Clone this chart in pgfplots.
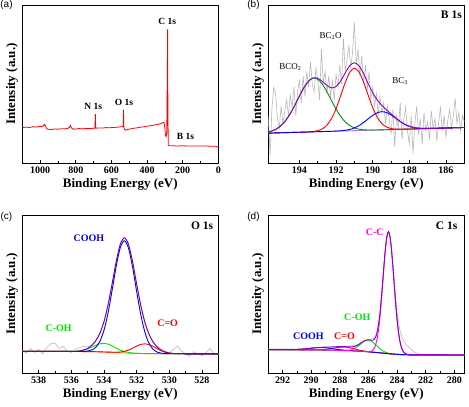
\documentclass[border=0pt]{standalone}
\usepackage{fontspec}
\setmainfont{Liberation Serif}
\newfontfamily\arialfont{Liberation Sans}
\usepackage{pgfplots}
\pgfplotsset{compat=1.18}
\definecolor{grayraw}{RGB}{185,185,185}
\definecolor{purp}{RGB}{140,0,200}
\definecolor{dpurp}{RGB}{120,0,150}
\definecolor{lpurp}{RGB}{175,115,235}
\definecolor{dgreen}{RGB}{0,145,0}
\definecolor{lgreen}{RGB}{0,230,0}
\definecolor{orng}{RGB}{255,130,0}
\definecolor{mag}{RGB}{255,0,255}
\pgfplotsset{
  xpsaxis/.style={
    scale only axis, width=196pt, height=158pt,
    x dir=reverse, ymin=0, ymax=100, ytick=\empty,
    axis line style={black, line width=0.8pt},
    tick align=inside, xtick pos=left, minor x tick num=1,
    major tick length=3.5pt, minor tick length=2pt,
    tick style={black, line width=0.6pt},
    tick label style={font=\fontsize{10}{12}\selectfont\bfseries},
    /pgf/number format/assume math mode=true,
    /pgf/number format/1000 sep={},
    label style={font=\fontsize{13}{15}\selectfont\bfseries},
    xlabel={Binding Energy (eV)},
    ylabel={Intensity (a.u.)},
    xlabel style={at={(axis description cs:0.5,-0.133)},anchor=center},
    ylabel style={at={(axis description cs:-0.053,0.5)},anchor=center},
    every axis plot/.append style={line width=0.9pt},
  },
}
\tikzset{
  ann/.style={font=\fontsize{9.5}{11}\selectfont\bfseries, inner sep=0pt},
  annc/.style={font=\fontsize{10}{12}\selectfont\bfseries, inner sep=0pt},
  corner/.style={font=\fontsize{11.5}{13}\selectfont\bfseries, inner sep=0pt, anchor=north east},
}
\begin{document}
\begin{tikzpicture}
\useasboundingbox (0,0) rectangle (469pt,-407pt);
% ---------------- (a) ----------------
\begin{axis}[xpsaxis, at={(22.3pt,-5pt)}, anchor=north west,
  xmin=0, xmax=1100, xtick={0,200,...,1000}]
\addplot[red, line width=0.8pt] coordinates {
(1100,22.4) (1080,22.7) (1060,22.5) (1040,22.9) (1020,22.8) (1000,23.1) (990,23.0) (980,23.8) (975,24.4) (970,23.6) (965,22.0) (960,21.4) (940,21.2) (920,21.5) (900,21.4) (880,21.7) (860,21.6) (845,21.9) (835,22.6) (830,23.7) (825,22.3) (815,21.4) (800,21.5) (780,21.8) (760,21.6) (740,21.9) (720,21.8) (700,22.0) (692,22.1) (690,31.0) (688,22.0) (670,22.2) (650,22.1) (630,22.4) (610,22.3) (590,22.5) (570,22.6) (550,22.9) (540,23.0) (534,23.1) (532,33.7) (530,22.4) (526,21.2) (520,20.8) (510,21.2) (500,21.4) (480,21.9) (460,22.2) (440,22.6) (420,22.9) (400,23.3) (380,23.6) (360,24.0) (340,24.5) (320,25.0) (310,25.6) (305,25.8) (300,22.5) (297,17.5) (293,16.6) (289,20) (286,60) (284.5,84.6) (283,40) (281,11.0) (278,10.9) (260,10.9) (240,10.8) (220,10.8) (200,10.9) (180,10.8) (160,10.8) (140,10.7) (120,10.8) (100,10.7) (80,10.7) (60,10.7) (40,10.6) (20,10.6) (10,10.5) (5,10.0) (2,10.0)};
\node[ann] at (axis cs:287,89.5) {C 1s};
\node[ann] at (axis cs:530,38.5) {O 1s};
\node[ann] at (axis cs:702,35.8) {N 1s};
\node[ann] at (axis cs:184,16.8) {B 1s};
\end{axis}
% ---------------- (b) ----------------
\begin{axis}[xpsaxis, at={(268.3pt,-5pt)}, anchor=north west,
  xmin=185, xmax=195.7, xtick={186,188,...,194}]
\addplot[grayraw, line width=0.6pt] coordinates {
(195.7,30) (195.6,5) (195.5,35) (195.4,48) (195.3,44) (195.2,28) (195.1,22) (195.0,36) (194.9,25) (194.8,33) (194.7,40) (194.6,30) (194.5,43) (194.4,35) (194.3,48) (194.2,30) (194.1,45) (194.0,52) (193.9,38) (193.8,55) (193.7,42) (193.6,58) (193.5,48) (193.4,64) (193.3,50) (193.2,45) (193.1,60) (193.0,52) (192.9,40) (192.8,72) (192.7,50) (192.6,58) (192.5,44) (192.4,55) (192.3,42) (192.2,52) (192.1,40) (192.0,56) (191.9,48) (191.8,62) (191.7,50) (191.6,79) (191.5,58) (191.4,66) (191.3,74) (191.2,60) (191.1,70) (191.0,89) (190.9,62) (190.8,72) (190.7,55) (190.6,68) (190.5,50) (190.4,62) (190.3,46) (190.2,58) (190.1,40) (190.0,48) (189.9,36) (189.8,44) (189.7,30) (189.6,42) (189.5,32) (189.4,38) (189.3,25) (189.2,36) (189.1,28) (189.0,18) (188.9,34) (188.8,10) (188.7,30) (188.6,22) (188.5,38) (188.4,15) (188.3,28) (188.2,35) (188.1,20) (188.0,12) (187.9,30) (187.8,6) (187.7,25) (187.6,36) (187.5,18) (187.4,28) (187.3,12) (187.2,32) (187.1,20) (187.0,26) (186.9,15) (186.8,33) (186.7,22) (186.6,28) (186.5,14) (186.4,26) (186.3,35) (186.2,20) (186.1,30) (186.0,16) (185.9,27) (185.8,34) (185.7,22) (185.6,30) (185.5,41) (185.4,25) (185.3,32) (185.2,20) (185.1,30) (185.0,26)};
\addplot[lpurp] coordinates {(195.7,18.9) (185,22.5)};
\addplot[dgreen, smooth] coordinates {
(195.7,19.62) (195.5,20.27) (195.25,21.59) (195.0,23.74) (194.75,26.94) (194.5,31.28) (194.25,36.60) (194.0,42.37) (193.75,47.77) (193.5,51.80) (193.25,53.67) (193.0,52.98) (192.75,49.89) (192.5,45.11) (192.25,39.54) (192.0,34.12) (191.75,29.51) (191.5,26.02) (191.25,23.65) (191.0,22.19) (190.75,21.40) (190.5,21.03) (190.25,20.89) (190.0,20.88) (189.5,20.98) (188.0,21.49) (186.0,22.16) (185.0,22.50)};
\addplot[red, smooth] coordinates {
(195.7,18.90) (194.0,19.47) (193.5,19.71) (193.25,19.95) (193.0,20.48) (192.75,21.62) (192.5,23.96) (192.25,28.08) (192.0,34.38) (191.75,42.48) (191.5,50.92) (191.25,57.46) (191.0,59.98) (190.75,57.62) (190.5,51.26) (190.25,42.98) (190.0,35.06) (189.75,28.92) (189.5,24.96) (189.25,22.80) (189.0,21.82) (188.75,21.47) (188.5,21.39) (188.0,21.49) (186.0,22.16) (185.0,22.50)};
\addplot[blue, smooth] coordinates {
(195.7,18.90) (192.5,19.98) (192.0,20.20) (191.75,20.39) (191.5,20.70) (191.25,21.27) (191.0,22.21) (190.75,23.64) (190.5,25.60) (190.25,27.89) (190.0,30.13) (189.75,31.81) (189.5,32.48) (189.25,31.98) (189.0,30.46) (188.75,28.40) (188.5,26.27) (188.25,24.48) (188.0,23.22) (187.75,22.44) (187.5,22.05) (187.25,21.90) (187.0,21.88) (186.5,21.99) (185.0,22.50)};
\addplot[purp, smooth] coordinates {
(195.7,19.62) (195.5,20.27) (195.25,21.59) (195.0,23.74) (194.75,26.94) (194.5,31.28) (194.25,36.60) (194.0,42.37) (193.75,47.79) (193.5,51.87) (193.25,53.90) (193.0,53.65) (192.75,51.62) (192.5,49.09) (192.25,47.56) (192.0,48.42) (191.75,51.92) (191.5,57.02) (191.25,61.58) (191.0,63.42) (190.75,61.54) (190.5,56.59) (190.25,50.30) (190.0,44.43) (189.75,39.83) (189.5,36.46) (189.25,33.71) (189.0,31.13) (188.75,28.63) (188.5,26.34) (188.25,24.48) (188.0,23.22) (187.75,22.44) (187.5,22.05) (187.25,21.90) (187.0,21.88) (186.5,21.99) (186.0,22.16) (185.5,22.33) (185.0,22.50)};
\node[font=\fontsize{9}{11}\selectfont, inner sep=0pt] at (axis cs:194.5,61) {BCO\textsubscript{2}};
\node[font=\fontsize{9}{11}\selectfont, inner sep=0pt] at (axis cs:192.3,80.4) {BC\textsubscript{2}O};
\node[font=\fontsize{9}{11}\selectfont, inner sep=0pt] at (axis cs:188.5,51.6) {BC\textsubscript{3}};
\node[corner] at (rel axis cs:0.988,0.965) {B 1s};
\end{axis}
% ---------------- (c) ----------------
\begin{axis}[xpsaxis, at={(22.3pt,-215pt)}, anchor=north west,
  xmin=527, xmax=539, xtick={528,530,...,538}]
\addplot[grayraw, line width=0.6pt] coordinates {
(539.0,14.5) (538.75,12.5) (538.5,15.5) (538.25,13.0) (538.0,15.0) (537.75,12.0) (537.5,16.0) (537.25,18.5) (537.0,19.0) (536.75,15.5) (536.5,17.0) (536.25,14.0) (536.0,13.0) (535.75,15.0) (535.5,16.0) (535.25,17.0) (535.0,16.5) (534.75,18.0) (534.5,21.0) (534.25,25.0) (534.0,32.0) (533.75,43.5) (533.5,56.0) (533.25,70.0) (533.0,82.0) (532.75,86.0) (532.5,82.0) (532.25,71.0) (532.0,56.0) (531.75,43.0) (531.5,32.5) (531.25,25.0) (531.0,20.0) (530.75,17.0) (530.5,15.5) (530.25,14.0) (530.0,12.5) (529.75,15.0) (529.5,17.0) (529.25,14.0) (529.0,12.0) (528.75,10.5) (528.5,13.5) (528.25,12.0) (528.0,11.0) (527.75,13.0) (527.5,15.5) (527.25,12.0) (527.0,11.5)};
\addplot[orng] coordinates {
(539,13.8) (538,13.75) (537,13.7) (536,13.65) (535.5,13.6) (535,13.55) (534.5,13.45) (534,13.3) (533.5,13.1) (533,12.85) (532.5,12.6) (532,12.4) (531.5,12.3) (531,12.25) (530.5,12.2) (530,12.18) (529,12.15) (528,12.12) (527,12.1)};
\addplot[lgreen, smooth] coordinates {
(539,13.8) (537,13.7) (536.5,13.68) (536,13.70) (535.75,13.77) (535.5,13.98) (535.25,14.45) (535,15.24) (534.75,16.33) (534.5,17.54) (534.25,18.49) (534,18.80) (533.75,18.31) (533.5,17.19) (533.25,15.81) (533,14.54) (532.75,13.59) (532.5,12.98) (532.25,12.65) (532,12.45) (531.5,12.3) (531,12.25) (530,12.18) (527,12.1)};
\addplot[red, smooth] coordinates {
(539,13.8) (535,13.55) (534,13.3) (533.5,13.16) (533.25,13.15) (533,13.28) (532.75,13.69) (532.5,14.49) (532.25,15.69) (532,17.02) (531.75,18.10) (531.5,18.50) (531.25,18.03) (531,16.87) (530.75,15.41) (530.5,14.09) (530.25,13.17) (530,12.61) (529.75,12.34) (529.5,12.23) (529,12.15) (527,12.1)};
\addplot[blue, smooth] coordinates {
(539,13.8) (537,13.7) (536,13.65) (535.5,13.6) (535.25,13.68) (535,13.90) (534.75,14.56) (534.5,16.30) (534.25,20.06) (534,27.05) (533.75,38.04) (533.5,52.42) (533.25,67.59) (533,79.34) (532.75,83.72) (532.5,79.09) (532.25,67.11) (532,51.72) (531.75,37.18) (531.5,26.05) (531.25,18.95) (531,15.10) (530.75,13.28) (530.5,12.55) (530.25,12.29) (530,12.21) (529,12.15) (527,12.1)};
\addplot[dpurp, smooth] coordinates {
(539,13.8) (538,13.75) (537,13.7) (536.5,13.68) (536,13.70) (535.75,13.78) (535.5,13.99) (535.25,14.55) (535,15.59) (534.75,17.39) (534.5,20.39) (534.25,25.17) (534,32.55) (533.75,43.16) (533.5,56.57) (533.25,70.59) (533,81.46) (532.75,85.56) (532.5,81.36) (532.25,70.45) (532,56.39) (531.75,42.94) (531.5,32.25) (531.25,24.71) (531,19.72) (530.75,16.47) (530.5,14.44) (530.25,13.26) (530,12.61) (529.75,12.34) (529.5,12.23) (529,12.15) (528,12.12) (527,12.1)};
\node[annc, text=blue] at (axis cs:534.92,85.3) {COOH};
\node[annc, text=lgreen] at (axis cs:536.77,28.4) {C-OH};
\node[annc, text=red] at (axis cs:530.1,31.2) {C=O};
\node[corner] at (rel axis cs:0.975,0.955) {O 1s};
\end{axis}
% ---------------- (d) ----------------
\begin{axis}[xpsaxis, at={(268.3pt,-215pt)}, anchor=north west,
  xmin=279.3, xmax=293, xtick={280,282,...,292}]
\addplot[grayraw, line width=0.6pt] coordinates {
(293,15.2) (292,15.3) (291,15.3) (290,15.6) (289.5,16.0) (289,16.3) (288.5,16.6) (288,16.9) (287.6,17.0) (287.2,17.2) (286.8,17.8) (286.4,19.8) (286.0,21.3) (285.8,21.5) (285.7,21.8) (285.6,22.5) (285.5,23.5) (285.4,26.5) (285.3,31.5) (285.2,38.0) (285.1,48.0) (285.0,58.0) (284.9,69.5) (284.8,80.0) (284.7,87.0) (284.6,89.3) (284.5,86.8) (284.4,79.8) (284.3,69.8) (284.2,58.5) (284.1,47.5) (284.0,38.5) (283.9,32.5) (283.8,27.0) (283.7,24.0) (283.6,21.5) (283.4,18.5) (283.2,16.5) (283.0,14.8) (282.8,13.4) (282.5,12.2) (282.0,11.6) (281,11.5) (280,11.4) (279.3,11.4)};
\addplot[orng] coordinates {
(293,14.8) (292,14.75) (291,14.7) (290,14.6) (289,14.5) (288,14.3) (287.2,14.05) (286.4,13.7) (286,13.4) (285.6,13.1) (285.2,12.8) (284.8,12.4) (284.4,12.0) (284,11.8) (283.4,11.6) (283,11.5) (282,11.45) (280,11.4) (279.3,11.4)};
\addplot[lgreen, smooth] coordinates {
(293,14.8) (289,14.5) (288.5,14.4) (288,14.31) (287.6,14.31) (287.2,14.73) (287,15.42) (286.8,16.47) (286.6,17.88) (286.4,19.38) (286.2,20.48) (286,20.80) (285.8,20.18) (285.6,18.78) (285.4,17.03) (285.2,15.37) (285,14.02) (284.8,13.08) (284.6,12.49) (284.4,12.11) (284.2,11.93) (284,11.81) (283,11.5) (279.3,11.4)};
\addplot[red, smooth] coordinates {
(293,14.8) (291,14.7) (290,14.61) (289.5,14.63) (289,14.89) (288.5,15.54) (288,16.31) (287.6,16.38) (287.2,15.75) (286.8,14.86) (286.4,14.09) (286,13.51) (285.6,13.12) (285,12.6) (284,11.8) (283,11.5) (279.3,11.4)};
\addplot[blue, smooth] coordinates {
(293,14.8) (292,14.76) (291,14.87) (290.5,15.17) (290,15.69) (289.5,16.10) (289,15.99) (288.5,15.37) (288,14.73) (287.6,14.37) (287.2,14.10) (286.8,13.91) (286.4,13.7) (286,13.4) (285,12.6) (284,11.8) (283,11.5) (279.3,11.4)};
\addplot[mag, smooth] coordinates {
(293,14.8) (290,14.6) (288,14.3) (287,14.0) (286.4,13.71) (286.2,13.56) (286,13.49) (285.8,13.78) (285.7,14.35) (285.6,15.52) (285.5,17.69) (285.4,21.36) (285.3,27.01) (285.2,34.95) (285.1,45.12) (285,56.87) (284.9,68.90) (284.8,79.44) (284.7,86.68) (284.6,89.2) (284.5,86.48) (284.4,79.04) (284.3,68.35) (284.2,56.17) (284.1,44.27) (284,33.95) (283.9,25.88) (283.8,20.11) (283.7,16.35) (283.6,14.07) (283.4,12.13) (283.2,11.64) (283,11.5) (282,11.45) (279.3,11.4)};
\addplot[purp, smooth] coordinates {
(293,14.8) (292,14.76) (291,14.87) (290.5,15.17) (290,15.70) (289.5,16.18) (289,16.38) (288.5,16.51) (288,16.75) (287.6,16.66) (287.2,16.48) (287,16.77) (286.8,17.44) (286.6,18.52) (286.4,19.77) (286.2,20.71) (286,21.00) (285.8,20.76) (285.7,20.73) (285.6,21.22) (285.5,22.59) (285.4,25.44) (285.3,30.30) (285.2,37.52) (285.1,47.06) (285,58.29) (284.9,69.90) (284.8,80.12) (284.7,87.13) (284.6,89.49) (284.5,86.66) (284.4,79.15) (284.3,68.41) (284.2,56.20) (284.1,44.29) (284,33.96) (283.9,25.88) (283.8,20.11) (283.7,16.35) (283.6,14.07) (283.4,12.13) (283.2,11.64) (283,11.5) (282,11.45) (281,11.45) (280,11.4) (279.3,11.4)};
\node[annc, text=mag] at (axis cs:285.56,89.4) {C-C};
\node[annc, text=lgreen] at (axis cs:286.78,35.1) {C-OH};
\node[annc, text=blue] at (axis cs:290.2,23.3) {COOH};
\node[annc, text=red] at (axis cs:287.67,23.3) {C=O};
\node[corner] at (rel axis cs:0.965,0.955) {C 1s};
\end{axis}
% panel letters
\node[font=\arialfont\fontsize{10}{12}\selectfont, inner sep=0pt] at (6.5pt,-5pt) {(a)};
\node[font=\arialfont\fontsize{10}{12}\selectfont, inner sep=0pt] at (253.5pt,-5pt) {(b)};
\node[font=\arialfont\fontsize{10}{12}\selectfont, inner sep=0pt] at (6.5pt,-217pt) {(c)};
\node[font=\arialfont\fontsize{10}{12}\selectfont, inner sep=0pt] at (253.5pt,-217pt) {(d)};
\end{tikzpicture}
\end{document}
